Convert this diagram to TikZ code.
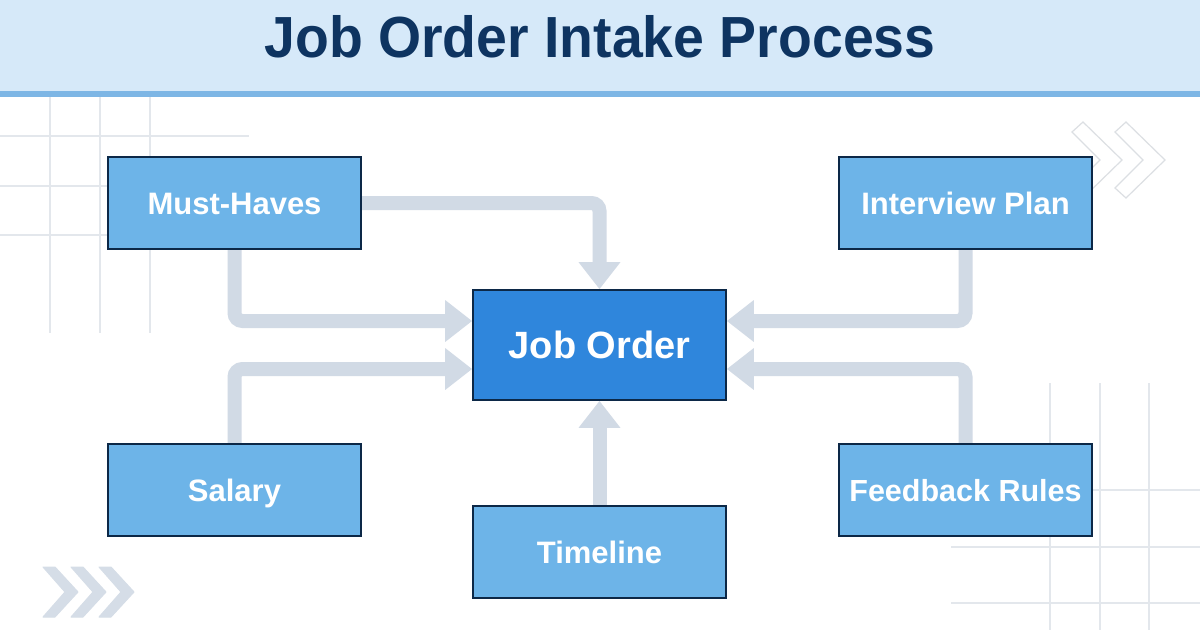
\documentclass[tikz,border=0pt]{standalone}
\usepackage{fontspec}
\setmainfont{Liberation Sans}
\usetikzlibrary{arrows.meta,backgrounds}
\definecolor{hdrfill}{HTML}{D6E9F9}
\definecolor{hdrline}{HTML}{7DB6E5}
\definecolor{titlecol}{HTML}{0E3461}
\definecolor{boxlight}{HTML}{6DB4E8}
\definecolor{boxdark}{HTML}{2F86DC}
\definecolor{boxedge}{HTML}{0C2847}
\definecolor{conncol}{HTML}{D1DAE5}
\definecolor{gridcol}{HTML}{E3E7EC}
\definecolor{chevfill}{HTML}{D5DDE7}
\definecolor{chevline}{HTML}{DCDFE3}
\begin{document}
\begin{tikzpicture}[x=1pt,y=-1pt,
  stepbox/.style={draw=boxedge, line width=1.6pt, fill=boxlight, text=white,
    minimum width=253pt, minimum height=92pt, inner sep=0pt,
    font=\fontsize{31}{34}\selectfont\bfseries, text height=22pt, text depth=0pt},
  mainbox/.style={stepbox, fill=boxdark, minimum height=110pt,
    font=\fontsize{38}{42}\selectfont\bfseries, text height=27pt},
  conn/.style={draw=conncol, line width=14pt, rounded corners=8pt,
    -{Triangle[width=40pt,length=27pt]}},
  gridline/.style={draw=gridcol, line width=1.5pt},
  chevo/.style={draw=chevline, line width=1.2pt, fill=white, line join=miter},
  chevf/.style={fill=chevfill, draw=chevfill, line width=1pt, line join=round}]
\useasboundingbox (0,0) rectangle (1200,630);

\begin{scope}[on background layer]
  \fill[white] (0,0) rectangle (1200,630);
  % header
  \fill[hdrfill] (0,0) rectangle (1200,92);
  \fill[hdrline] (0,91) rectangle (1200,97);
  % top-left grid
  \foreach \gx in {50,100,150} \draw[gridline] (\gx,97) -- (\gx,333);
  \draw[gridline] (0,136) -- (249,136);
  \draw[gridline] (0,186) -- (150,186);
  \draw[gridline] (0,235) -- (150,235);
  % bottom-right grid
  \foreach \gx in {1050,1100,1149} \draw[gridline] (\gx,383) -- (\gx,630);
  \draw[gridline] (1060,490) -- (1200,490);
  \draw[gridline] (951,547) -- (1200,547);
  \draw[gridline] (951,603) -- (1200,603);
  % outline chevrons (top right)
  \foreach \cx in {1072,1115}
    \draw[chevo] (\cx,132) -- (\cx+11,122) -- (\cx+50,160) -- (\cx+11,198)
      -- (\cx,188) -- (\cx+28,160) -- cycle;
  % filled chevrons (bottom left)
  \foreach \cx in {43,71,99}
    \filldraw[chevf] (\cx,567) -- (\cx+12,567) -- (\cx+35,592) -- (\cx+12,617)
      -- (\cx,617) -- (\cx+22,592) -- cycle;
\end{scope}

% title
\node[font=\fontsize{58}{62}\selectfont\bfseries, text=titlecol, anchor=base,
  xscale=0.955, inner sep=0pt] (title) at (600,57) {Job Order Intake Process};

% boxes
\node[stepbox] (must) at (234.5,203) {Must-Haves};
\node[stepbox] (interview) at (965.5,203) {Interview Plan};
\node[mainbox] (job) at (599.5,345) {Job Order};
\node[stepbox] (salary) at (234.5,490) {Salary};
\node[stepbox, font=\fontsize{30.5}{34}\selectfont\bfseries] (feedback) at (965.5,490) {Feedback Rules};
\node[stepbox] (timeline) at (599.5,552) {Timeline};

% connectors
\begin{scope}[on background layer]
  \draw[conn] (must.east) -| (job.north);
  \draw[conn] (must.south) |- ([yshift=24pt]job.west);
  \draw[conn] (salary.north) |- ([yshift=-24pt]job.west);
  \draw[conn] (interview.south) |- ([yshift=24pt]job.east);
  \draw[conn] (feedback.north) |- ([yshift=-24pt]job.east);
  \draw[conn] (timeline.north) -- (job.south);
\end{scope}
\end{tikzpicture}
\end{document}
